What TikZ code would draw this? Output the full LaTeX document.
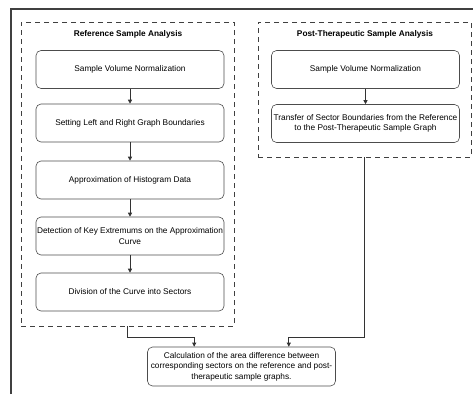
\documentclass[tikz,border=0pt]{standalone}
\usepackage{fontspec}
\setmainfont{Liberation Sans}
\usetikzlibrary{arrows.meta}
\begin{document}
\begin{tikzpicture}[x=1pt,y=-1pt,
        step box/.style = {draw=black!70, line width=0.6pt, rounded corners=5pt, minimum width=188pt, minimum height=38pt, align=center, inner sep=1pt, font=\fontsize{8.3}{10.5}\selectfont},
        group/.style = {draw=black!75, dashed, dash pattern=on 5pt off 4pt, line width=0.7pt},
        title/.style = {font=\fontsize{8.3}{10}\selectfont\bfseries},
        arr/.style = {draw=black!80, line width=0.7pt, -{Triangle[length=4pt,width=4pt]}}]
        \useasboundingbox (0,0) rectangle (473,394);
        % outer frame
        \draw[black!75, line width=1.2pt] (11,394) -- (11,9) -- (473,9);
        % groups
        \node[group, minimum width=213pt, minimum height=304pt] (refgrp) at (127.5,174) {};
        \node[group, minimum width=213pt, minimum height=135pt] (postgrp) at (364.5,89.5) {};
        \node[title] (reftitle) at (128,34.5) {Reference Sample Analysis};
        \node[title] (posttitle) at (365,34.5) {Post-Therapeutic Sample Analysis};
        % reference steps
        \node[step box] (r1) at (130,69.5) {Sample Volume Normalization};
        \node[step box] (r2) at (130,123) {Setting Left and Right Graph Boundaries};
        \node[step box] (r3) at (130,180) {Approximation of Histogram Data};
        \node[step box] (r4) at (130,236) {Detection of Key Extremums on the Approximation\\ Curve};
        \node[step box] (r5) at (130,292) {Division of the Curve into Sectors};
        % post-therapeutic steps
        \node[step box] (p1) at (365.5,69.5) {Sample Volume Normalization};
        \node[step box] (p2) at (365.5,123.5) {Transfer of Sector Boundaries from the Reference\\ to the Post-Therapeutic Sample Graph};
        % result
        \node[step box, minimum height=39pt] (calc) at (241.5,366.5) {Calculation of the area difference between\\ corresponding sectors on the reference and post-\\ therapeutic sample graphs.};
        \draw[arr] (r1) -- (r2);
        \draw[arr] (r2) -- (r3);
        \draw[arr] (r3) -- (r4);
        \draw[arr] (r4) -- (r5);
        \draw[arr] (p1) -- (p2);
        \draw[arr] (refgrp.south) -- ++(0,11) -| ([xshift=47pt]calc.north west);
        \draw[arr] (postgrp.south) -- ++(0,180) -| ([xshift=-47pt]calc.north east);
\end{tikzpicture}
\end{document}
